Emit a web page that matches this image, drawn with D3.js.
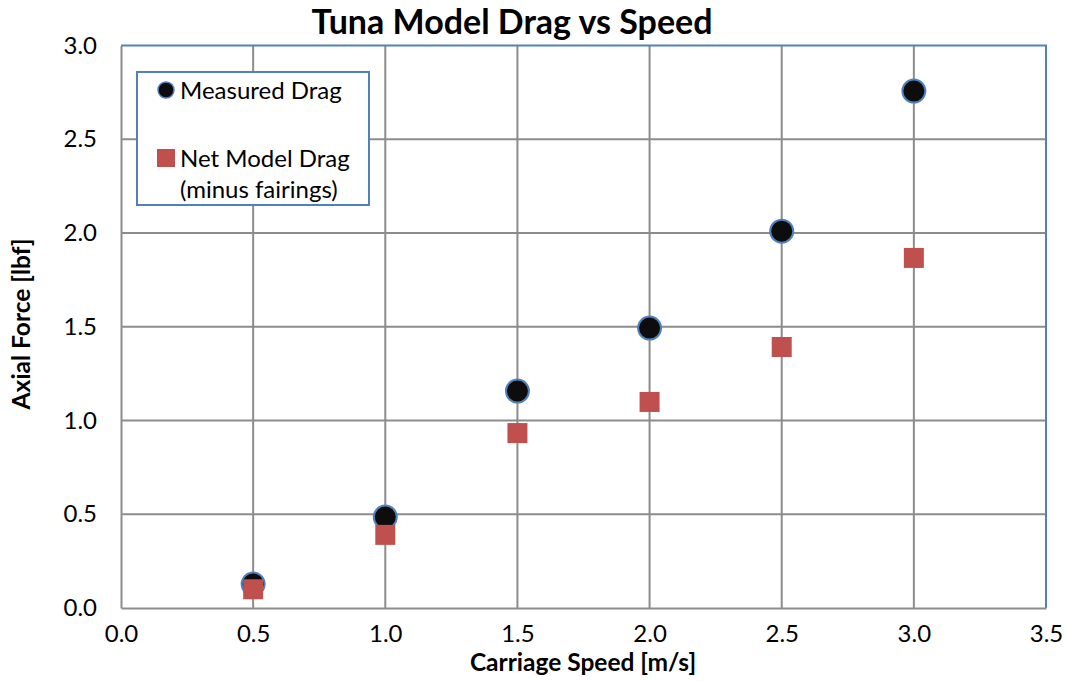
<!DOCTYPE html>
<html>
<head>
<meta charset="utf-8">
<script src="https://cdn.jsdelivr.net/npm/d3@7"></script>
<style>
  body { margin: 0; background: #fff; }
  svg { font-family: Lato, "Open Sans", sans-serif; }
</style>
</head>
<body>
<div id="chart"></div>
<script>
var speeds = [0.5, 1.0, 1.5, 2.0, 2.5, 3.0];
var measuredDrag = [0.128, 0.485, 1.157, 1.493, 2.01, 2.757];
var netModelDrag = [0.10, 0.39, 0.933, 1.099, 1.392, 1.867];
var xTicks = [0, 0.5, 1.0, 1.5, 2.0, 2.5, 3.0, 3.5];
var yTicks = [0, 0.5, 1.0, 1.5, 2.0, 2.5, 3.0];

var w = 1068, h = 681,
    pLeft = 121, pRight = 1046, pTop = 45.5, pBottom = 608;

var svg = d3.select("#chart").append("svg")
      .attr("width", w)
      .attr("height", h);

var x = d3.scaleLinear().domain([0, 3.5]).range([pLeft, pRight]);
var y = d3.scaleLinear().domain([0, 3]).range([pBottom, pTop]);

// grid
svg.append("g")
  .selectAll("line")
  .data(xTicks.slice(1, -1))
  .enter().append("line")
  .attr("x1", (d) => x(d)).attr("x2", (d) => x(d))
  .attr("y1", pTop).attr("y2", pBottom)
  .style("stroke", "#8c8c8c").style("stroke-width", 2);

svg.append("g")
  .selectAll("line")
  .data(yTicks.slice(1, -1))
  .enter().append("line")
  .attr("x1", pLeft).attr("x2", pRight)
  .attr("y1", (d) => y(d)).attr("y2", (d) => y(d))
  .style("stroke", "#8c8c8c").style("stroke-width", 2);

// frame: top/right blue, axes gray
svg.append("path")
  .attr("d", "M" + pLeft + "," + pTop + "H" + pRight + "V" + pBottom)
  .style("fill", "none").style("stroke", "#4f81bd").style("stroke-width", 2);

var xAxis = svg.append("g")
  .attr("transform", "translate(0," + pBottom + ")")
  .call(d3.axisBottom(x).tickValues(xTicks).tickFormat(d3.format(".1f")).tickSize(0).tickPadding(20));
var yAxis = svg.append("g")
  .attr("transform", "translate(" + pLeft + ",0)")
  .call(d3.axisLeft(y).tickValues(yTicks).tickFormat(d3.format(".1f")).tickSize(0).tickPadding(24));

[xAxis, yAxis].forEach((a) => {
  a.select(".domain").style("stroke", "#8c8c8c").style("stroke-width", 2);
  a.selectAll("text").style("font-size", "24px").style("fill", "#000").style("font-family", "Lato, sans-serif");
});
xAxis.selectAll("text").attr("dy", "0.6em");

// series
var pts = speeds.map((s, i) => ({x: s, m: measuredDrag[i], n: netModelDrag[i]}));

svg.append("g")
  .selectAll("circle")
  .data(pts)
  .enter().append("circle")
  .attr("cx", (d) => x(d.x))
  .attr("cy", (d) => y(d.m))
  .attr("r", 11.5)
  .style("fill", "#0d0d0d")
  .style("stroke", "#4f81bd")
  .style("stroke-width", 2);

var sq = 20;
svg.append("g")
  .selectAll("rect")
  .data(pts)
  .enter().append("rect")
  .attr("x", (d) => x(d.x) - sq / 2)
  .attr("y", (d) => y(d.n) - sq / 2)
  .attr("width", sq).attr("height", sq)
  .style("fill", "#c0504d");

// legend
var lg = svg.append("g");
lg.append("rect")
  .attr("x", 137).attr("y", 72).attr("width", 232).attr("height", 133)
  .style("fill", "#fff").style("stroke", "#4f81bd").style("stroke-width", 2);
lg.append("circle")
  .attr("cx", 166).attr("cy", 90).attr("r", 8)
  .style("fill", "#0d0d0d").style("stroke", "#4f81bd").style("stroke-width", 1.5);
lg.append("rect")
  .attr("x", 157).attr("y", 149).attr("width", 18).attr("height", 18)
  .style("fill", "#c0504d");
lg.selectAll("text.lab")
  .data([["Measured Drag", 90], ["Net Model Drag", 158], ["(minus fairings)", 189]])
  .enter().append("text")
  .attr("x", 180).attr("y", (d) => d[1])
  .attr("dy", "0.36em")
  .style("font-size", "24px")
  .text((d) => d[0]);

// titles
svg.append("text")
  .attr("x", 512).attr("y", 34)
  .attr("text-anchor", "middle")
  .style("font-size", "34px").style("font-weight", "bold")
  .text("Tuna Model Drag vs Speed");

svg.append("text")
  .attr("x", 583).attr("y", 671)
  .attr("text-anchor", "middle")
  .style("font-size", "24.5px").style("font-weight", "bold")
  .text("Carriage Speed [m/s]");

svg.append("text")
  .attr("transform", "translate(30,324) rotate(-90)")
  .attr("text-anchor", "middle")
  .style("font-size", "24.5px").style("font-weight", "bold")
  .text("Axial Force [lbf]");
</script>
</body>
</html>
